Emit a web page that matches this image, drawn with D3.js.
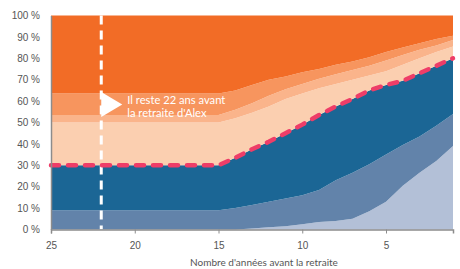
<!DOCTYPE html>
<html>
<head>
<meta charset="utf-8">
<script src="https://cdn.jsdelivr.net/npm/d3@7"></script>
<style>
  body { margin: 0; background: #fff; }
  svg { display: block; font-family: Lato, "Noto Sans", sans-serif; }
  .axis text { fill: #555; font-size: 10px; }
  .axis path, .axis line { stroke: #8c8c8c; }
</style>
</head>
<body>
<svg id="chart" width="460" height="269"></svg>
<script>
// years before retirement
var years = [25,24,23,22,21,20,19,18,17,16,15,14,13,12,11,10,9,8,7,6,5,4,3,2,1];

// allocation of each band, in %, bottom to top
var bandLightBlue  = [0,0,0,0,0,0,0,0,0,0,0,0,0.5,1,1.5,2.5,3.5,4,5,8.5,13,20.5,26.5,32,39];
var bandMidBlue    = [9,9,9,9,9,9,9,9,9,9,9,10,11,12,13,13.5,15,19,21.5,22,22,19,17,16.5,15];
var bandDarkBlue   = [21,21,21,21,21,21,21,21,21,21,21,23.5,26,28,30.5,33,35,34.5,34.5,34.5,32.5,30,29.5,28,26];
var bandPeach      = [20,20,20,20,20,20,20,20,20,20,20,18.5,17,16.5,16,14.5,12.5,10.5,9,7,6.5,7.5,7,6.5,5.5];
var bandLightOrange= [3.5,3.5,3.5,3.5,3.5,3.5,3.5,3.5,3.5,3.5,3.5,4,4.5,5,4.5,4.5,4.5,4.5,4.5,4.5,5,4.5,4,3,3];
var bandMidOrange  = [10,10,10,10,10,10,10,10,10,10,10,9,8.5,7.5,6,5.5,4.5,4.5,4,4,4,3.5,3,3,2];
var bandOrange     = [36.5,36.5,36.5,36.5,36.5,36.5,36.5,36.5,36.5,36.5,36.5,35,32.5,30,28.5,26.5,25,23,21.5,19.5,17,15,13,11,9.5];

var xTicks = [25,20,15,10,5];
var yTicks = [0,10,20,30,40,50,60,70,80,90,100];
var markerYear = 22;
var noteLines = ["Il reste 22 ans avant", "la retraite d'Alex"];

var keys = ["lb","mb","db","pe","lo","mo","or"];
var colors = {lb:"#b3c0d7", mb:"#6283aa", db:"#1b6695", pe:"#fbcfb0", lo:"#fab48b", mo:"#f7955e", or:"#f26c26"};
var bands = {lb:bandLightBlue, mb:bandMidBlue, db:bandDarkBlue, pe:bandPeach, lo:bandLightOrange, mo:bandMidOrange, or:bandOrange};

var rows = years.map(function(yr, i){
    var r = {year: yr};
    keys.forEach(function(k){ r[k] = bands[k][i]; });
    return r;
});

var svg = d3.select("#chart");
var x = d3.scaleLinear().domain([25,1]).range([51,453]);
var y = d3.scaleLinear().domain([0,100]).range([229.5,15.5]);

var series = d3.stack().keys(keys)(rows);

var area = d3.area()
    .x(function(d){ return x(d.data.year); })
    .y0(function(d){ return y(d[0]); })
    .y1(function(d){ return y(d[1]); });

svg.append("g").selectAll("path").data(series).enter().append("path")
    .attr("d", area)
    .attr("fill", function(d){ return colors[d.key]; });

// marker: years left
svg.append("line")
    .attr("x1", x(markerYear)).attr("x2", x(markerYear))
    .attr("y1", y(100)).attr("y2", y(0))
    .attr("stroke", "#fff").attr("stroke-width", 3)
    .attr("stroke-dasharray", "9,6");

// top of the dark blue band
var topLine = d3.line()
    .x(function(d){ return x(d.data.year); })
    .y(function(d){ return y(d[1]); });

svg.append("path")
    .datum(series[2])
    .attr("d", topLine)
    .attr("fill", "none")
    .attr("stroke", "#ee3d68").attr("stroke-width", 4.5)
    .attr("stroke-linecap", "round")
    .attr("stroke-dasharray", "8,9");

var mx = x(markerYear);
svg.append("path")
    .attr("d", "M" + mx + ",92L" + mx + ",117L" + (mx + 21) + ",104.5Z")
    .attr("fill", "#fff");

svg.append("text")
    .attr("x", mx + 26).attr("y", 103.5)
    .attr("fill", "#fff").style("font-size", "11.2px")
    .selectAll("tspan").data(noteLines).enter().append("tspan")
    .attr("x", mx + 26)
    .attr("dy", function(d, i){ return i ? 13.5 : 0; })
    .text(function(d){ return d; });

// axes
var xAxis = svg.append("g").attr("class", "axis")
    .attr("transform", "translate(0," + y(0) + ")")
    .call(d3.axisBottom(x).tickValues(xTicks).tickSize(4).tickPadding(8).tickFormat(d3.format("d")));
xAxis.select(".domain").attr("stroke-width", 1.5);

svg.append("g").attr("class", "axis")
    .attr("transform", "translate(" + x(25) + ",0)")
    .call(d3.axisLeft(y).tickValues(yTicks).tickSize(0).tickPadding(11).tickFormat(function(d){ return d + " %"; }))
    .select(".domain").attr("stroke-width", 1.5);

svg.append("text")
    .attr("x", 264).attr("y", 266)
    .attr("text-anchor", "middle")
    .attr("fill", "#555").style("font-size", "10px")
    .text("Nombre d'années avant la retraite");
</script>
</body>
</html>
